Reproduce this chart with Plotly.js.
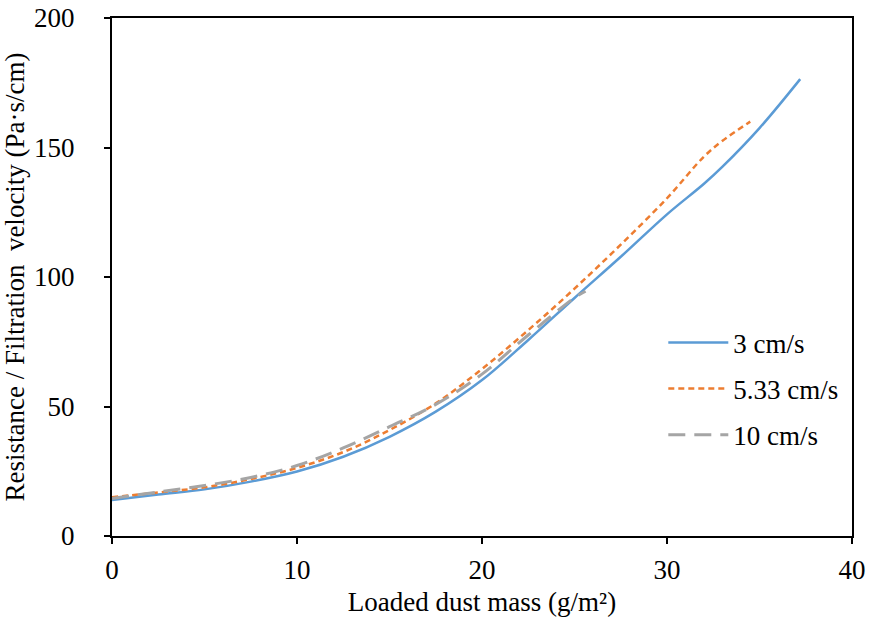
<!DOCTYPE html>
<html>
<head>
<meta charset="utf-8">
<script src="https://cdn.plot.ly/plotly-3.0.1.min.js"></script>
<style>
  html, body { margin: 0; padding: 0; background: #fff; }
  #chart { width: 875px; height: 628px; }
</style>
</head>
<body>
<div id="chart"></div>
<script>
// Loaded dust mass (g/m²) and resistance / filtration velocity (Pa·s/cm)
const mass3 = [0, 2.5, 5, 7.5, 10, 12.5, 15, 17.5, 20, 22.5, 25, 27.5, 30, 32, 33, 35, 37.2];
const res3  = [13.9, 16, 18, 21, 24.9, 30.6, 38.3, 48, 60.2, 75.7, 91.9, 107.8, 124.2, 136, 142.6, 157.5, 176.4];

const mass533 = [0, 2.5, 5, 7.5, 10, 12.5, 15, 17.5, 20, 22.5, 25, 27.5, 30, 32, 33, 34.5];
const res533  = [15, 16.8, 18.8, 22, 26.3, 32.4, 40.9, 51.2, 64.5, 79.5, 95.5, 112.5, 130.4, 146.5, 152.6, 160];

const mass10 = [0, 2.5, 5, 7.5, 10, 12.5, 15, 17.5, 20, 22.5, 25, 25.6];
const res10  = [14.5, 17, 19.5, 22.6, 27.2, 34, 42.2, 50.8, 62.5, 77.6, 92, 94.5];

const seriesNames = ['3 cm/s', '5.33 cm/s', '10 cm/s'];

const traces = [
  {
    x: mass3, y: res3, name: seriesNames[0], mode: 'lines', legendgroup: 'a',
    line: { color: '#5B9BD5', width: 2.5, shape: 'spline', smoothing: 1 }
  },
  {
    x: mass533, y: res533, name: seriesNames[1], mode: 'lines', legendgroup: 'b',
    line: { color: '#ED7D31', width: 2.5, shape: 'spline', smoothing: 1, dash: '6px,4px' }
  },
  {
    x: mass10, y: res10, name: seriesNames[2], mode: 'lines', legendgroup: 'c',
    line: { color: '#A5A5A5', width: 3, shape: 'spline', smoothing: 1, dash: '17px,9px' }
  }
];

const font = { family: 'Liberation Serif', size: 27, color: '#000' };

const axisCommon = {
  showgrid: false,
  zeroline: false,
  showline: true,
  linecolor: '#000',
  linewidth: 2,
  mirror: true,
  ticks: 'outside',
  ticklen: 6,
  tickwidth: 2,
  tickcolor: '#000',
  tickfont: font,
  automargin: false
};

const layout = {
  width: 875,
  height: 628,
  margin: { l: 112, r: 23, t: 18, b: 92 },
  paper_bgcolor: '#fff',
  plot_bgcolor: '#fff',
  font: font,
  showlegend: true,
  legend: {
    x: 0.745, y: 0.42, xanchor: 'left', yanchor: 'top',
    bgcolor: 'rgba(0,0,0,0)',
    font: font,
    traceorder: 'grouped',
    tracegroupgap: 8,
    itemwidth: 60
  },
  xaxis: Object.assign({}, axisCommon, {
    range: [0, 40],
    tickvals: [0, 10, 20, 30, 40],
    ticklabelstandoff: 3,
    title: { text: 'Loaded dust mass (g/m²)', font: font, standoff: 8 }
  }),
  yaxis: Object.assign({}, axisCommon, {
    range: [0, 200],
    tickvals: [0, 50, 100, 150, 200],
    ticklabelstandoff: 24,
    title: { text: 'Resistance / Filtration  velocity (Pa·s/cm)', font: font, standoff: 8 }
  })
};

Plotly.newPlot('chart', traces, layout, { displayModeBar: false, staticPlot: true });
</script>
</body>
</html>
